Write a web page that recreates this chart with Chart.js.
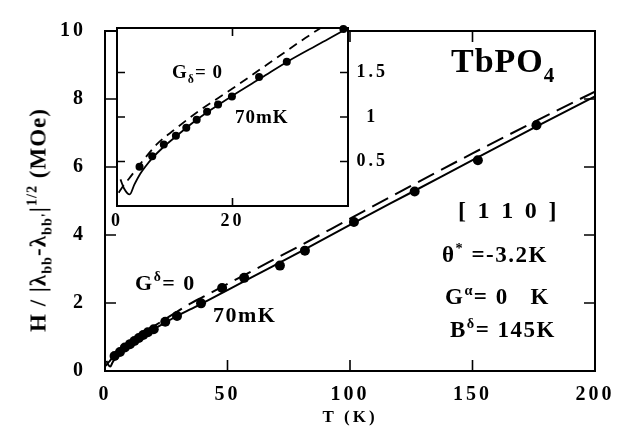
<!DOCTYPE html>
<html>
<head>
<meta charset="utf-8">
<script src="https://cdn.jsdelivr.net/npm/chart.js@4.4.0/dist/chart.umd.min.js"></script>
<style>
  html, body { margin: 0; padding: 0; background: #fff; }
  #wrap { position: relative; width: 626px; height: 437px; overflow: hidden; }
  #wrap canvas { position: absolute; left: 0; top: 0; }
  .lbl { position: absolute; white-space: nowrap; font-family: 'Liberation Serif', 'Times New Roman', serif;
         font-weight: bold; color: #000; line-height: 1; }
  .lbl sub, .lbl sup { font-size: 0.62em; line-height: 0; position: relative; vertical-align: baseline; }
  .lbl sup { top: -0.62em; }
  .lbl sub { top: 0.42em; }
</style>
</head>
<body>
<div id="wrap">
  <canvas id="main" width="626" height="437"></canvas>
  <canvas id="inset" width="626" height="437"></canvas>
</div>
<script>
// measured points, T (K) and H/|λbb-λbb'|^1/2 (MOe)
const measT = [3.9, 6.1, 8.1, 10.2, 12.0, 13.8, 15.6, 17.5, 19.9, 24.6, 29.4, 39.2,
               47.8, 56.8, 71.4, 81.6, 101.6, 126.4, 152.2, 176.1];
const measH = [0.44, 0.56, 0.69, 0.79, 0.88, 0.97, 1.06, 1.14, 1.23, 1.45, 1.62, 1.99,
               2.44, 2.74, 3.10, 3.54, 4.38, 5.28, 6.20, 7.23];

// calculated curve, 70 mK (solid)
const fitT = [0.6, 1.2, 2.2, 3, 4, 5, 6, 8, 10, 13, 16, 20, 25, 30, 35, 40,
              50, 60, 80, 100, 125, 150, 175, 200];
const fitH = [0.30, 0.20, 0.13, 0.24, 0.36, 0.45, 0.53, 0.66, 0.77, 0.93, 1.07, 1.24, 1.44, 1.64, 1.82, 2.00,
              2.38, 2.76, 3.52, 4.30, 5.25, 6.20, 7.15, 8.08];

// calculated curve with G_delta = 0 (dashed)
const zeroT = [0.3, 1, 2, 4, 7, 10, 14, 20, 26, 32, 35, 40, 60, 80, 100, 125, 150, 175, 200];
const zeroH = [0.15, 0.22, 0.30, 0.47, 0.70, 0.86, 1.06, 1.32, 1.59, 1.86, 1.99, 2.18,
               2.94, 3.70, 4.48, 5.45, 6.40, 7.32, 8.22];

// tick values
const mainXTicks = [0, 50, 100, 150, 200];
const mainYTicks = [0, 2, 4, 6, 8, 10];
const insetXTicks = [0, 20];
const insetYTicks = [0.5, 1, 1.5];

const FONT = "'Liberation Serif', 'Times New Roman', serif";
Chart.defaults.font.family = FONT;
Chart.defaults.color = '#000';

const toXY = (xs, ys) => xs.map((x, i) => ({ x, y: ys[i] }));
const plain = v => String(v);

// box outline, inward tick marks, optional white fill, letter spacing for tick labels
const frame = {
  id: 'frame',
  beforeDraw(chart, args, opts) {
    const { ctx, chartArea: a } = chart;
    if (opts.fill) {
      ctx.save();
      ctx.fillStyle = '#fff';
      ctx.fillRect(a.left, a.top, a.right - a.left, a.bottom - a.top);
      ctx.restore();
    }
    ctx.letterSpacing = opts.spacing || '0px';
  },
  beforeDatasetsDraw(chart) {
    chart.ctx.letterSpacing = '0px';
  },
  afterDraw(chart, args, opts) {
    const { ctx, chartArea: a, scales } = chart;
    const L = opts.tick;
    ctx.save();
    ctx.strokeStyle = '#000';
    ctx.lineWidth = opts.width;
    ctx.strokeRect(a.left, a.top, a.right - a.left, a.bottom - a.top);
    ctx.lineWidth = opts.width * 0.8;
    ctx.beginPath();
    scales.x.ticks.forEach(t => {
      const px = scales.x.getPixelForValue(t.value);
      if (px <= a.left + 1 || px >= a.right - 1) return;
      ctx.moveTo(px, a.bottom); ctx.lineTo(px, a.bottom - L);
      ctx.moveTo(px, a.top); ctx.lineTo(px, a.top + L);
    });
    scales.y.ticks.forEach(t => {
      const py = scales.y.getPixelForValue(t.value);
      if (py <= a.top + 1 || py >= a.bottom - 1) return;
      ctx.moveTo(a.left, py); ctx.lineTo(a.left + L, py);
      ctx.moveTo(a.right, py); ctx.lineTo(a.right - L, py);
    });
    ctx.stroke();
    ctx.restore();
  }
};

function datasets(radius, width, dash) {
  return [
    { data: toXY(measT, measH), showLine: false, pointRadius: radius, pointHoverRadius: radius,
      pointBackgroundColor: '#000', pointBorderWidth: 0, clip: 8, order: 0 },
    { data: toXY(fitT, fitH), showLine: true, borderColor: '#000', borderWidth: width,
      pointRadius: 0, cubicInterpolationMode: 'monotone', order: 1 },
    { data: toXY(zeroT, zeroH), showLine: true, borderColor: '#000', borderWidth: width,
      borderDash: dash, pointRadius: 0, cubicInterpolationMode: 'monotone', order: 2 }
  ];
}

new Chart(document.getElementById('main'), {
  type: 'scatter',
  data: { datasets: datasets(5, 2, [18, 8]) },
  options: {
    responsive: false, animation: false, devicePixelRatio: 1,
    layout: { padding: { left: 0, top: 15, right: 31, bottom: 0 } },
    plugins: { legend: { display: false }, tooltip: { enabled: false },
               frame: { tick: 11, width: 2, spacing: '3px' } },
    scales: {
      x: {
        type: 'linear', min: 0, max: 200,
        afterBuildTicks: s => { s.ticks = mainXTicks.map(v => ({ value: v })); },
        afterFit: s => { s.height = 66; },
        grid: { display: false, drawTicks: false }, border: { display: false },
        ticks: { padding: 12, font: { size: 20, weight: 'bold' }, callback: plain },
        title: { display: true, text: 'T (K)', font: { size: 17, weight: 'bold' },
                 padding: { top: 0, bottom: 9 } }
      },
      y: {
        type: 'linear', min: 0, max: 10,
        afterBuildTicks: s => { s.ticks = mainYTicks.map(v => ({ value: v })); },
        afterFit: s => { s.width = 105; },
        grid: { display: false, drawTicks: false }, border: { display: false },
        ticks: { padding: 19, font: { size: 20, weight: 'bold' }, callback: plain }
      }
    }
  },
  plugins: [frame]
});

new Chart(document.getElementById('inset'), {
  type: 'scatter',
  data: { datasets: datasets(4, 1.8, [9, 6]) },
  options: {
    responsive: false, animation: false, devicePixelRatio: 1,
    layout: { padding: { left: 117, top: 28, right: 0, bottom: 0 } },
    plugins: { legend: { display: false }, tooltip: { enabled: false },
               frame: { tick: 8, width: 2, fill: true, spacing: '3px' } },
    scales: {
      x: {
        type: 'linear', min: 0, max: 40,
        afterBuildTicks: s => { s.ticks = insetXTicks.map(v => ({ value: v })); },
        afterFit: s => { s.height = 231; },
        grid: { display: false, drawTicks: false }, border: { display: false },
        ticks: { padding: 5, font: { size: 18, weight: 'bold' }, callback: plain }
      },
      y: {
        type: 'linear', position: 'right', min: 0, max: 2,
        afterBuildTicks: s => { s.ticks = insetYTicks.map(v => ({ value: v })); },
        afterFit: s => { s.width = 278; },
        grid: { display: false, drawTicks: false }, border: { display: false },
        ticks: { padding: 13, crossAlign: 'center', font: { size: 18, weight: 'bold' }, callback: plain }
      }
    }
  },
  plugins: [frame]
});

// rich-text annotations, placed by their baseline
const wrap = document.getElementById('wrap');
function addLabel(html, x, baseline, size, spacing) {
  const d = document.createElement('div');
  d.className = 'lbl';
  d.innerHTML = html;
  d.style.fontSize = size + 'px';
  d.style.left = x + 'px';
  d.style.top = (baseline - 0.8375 * size) + 'px';
  d.style.letterSpacing = (spacing || 0) + 'px';
  wrap.appendChild(d);
  return d;
}

addLabel('TbPO<sub style="top:0.5em">4</sub>', 451, 72, 34, 1);
addLabel('[ 1 1 0 ]', 458, 218, 24, 2.8);
addLabel('θ<sup>*</sup> =-3.2K', 442, 262, 23, 1.5);
addLabel('G<sup>α</sup>= 0&nbsp;&nbsp; K', 445, 304, 23, 1.5);
addLabel('B<sup>δ</sup>= 145K', 450, 337, 23, 1.5);
addLabel('G<sup>δ</sup>= 0', 135, 290, 22, 1.5);
addLabel('70mK', 213, 322, 22, 1.5);
addLabel('G<sub>δ</sub>= 0', 172, 78, 19, 1);
addLabel('70mK', 235, 123, 19, 1);

const yt = addLabel('H / |λ<sub>bb</sub>-λ<sub>bb\'</sub>|<sup>1/2</sup> (MOe)', 0, 0, 23, 1);
yt.style.left = '38px';
yt.style.top = '220px';
yt.style.transform = 'translate(-50%, -50%) rotate(-90deg)';
</script>
</body>
</html>
